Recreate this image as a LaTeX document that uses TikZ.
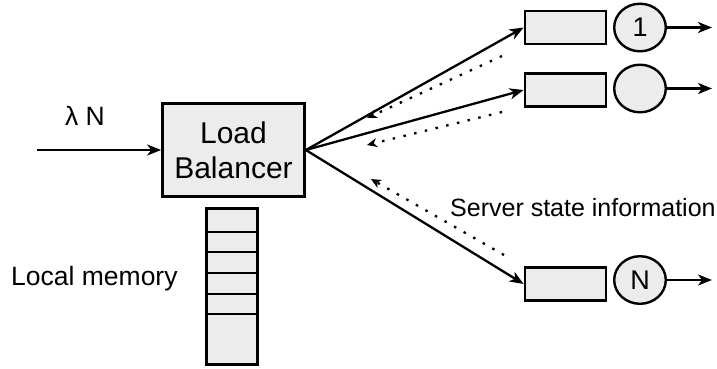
\documentclass[tikz,border=0pt]{standalone}
\usepackage{fontspec}
\setmainfont{Liberation Sans}
\usetikzlibrary{arrows.meta,positioning}
\tikzset{
box/.style={draw,line width=2.7pt,fill=gray!15,inner sep=0pt},
ring/.style={draw,line width=2.4pt,fill=gray!15},
srv/.style={minimum width=54pt,minimum height=50pt,inner sep=0pt,outer sep=0pt,font=\fontsize{27}{30}\selectfont},
lbl/.style={inner sep=0pt,font=\fontsize{26.5}{30}\selectfont},
flow/.style={line width=2.3pt,-{Stealth[length=14pt,width=11pt,inset=4pt]}},
info/.style={line width=2.3pt,dash pattern={on 2.5pt off 8.5pt},-{Stealth[length=10pt,width=9pt,inset=3pt]}},
}

\begin{document}
\begin{tikzpicture}[x=1pt,y=1pt,yscale=-1]
\useasboundingbox (0,0) rectangle (717,368);

%Load balancer
\node[box,minimum width=142pt,minimum height=93pt,align=center,font=\fontsize{30}{35}\selectfont] (lb) at (233.5,150) {Load\\Balancer};
%Local memory stack
\node[box,minimum width=51.3pt,minimum height=156.3pt] (mem) at (232,286.5) {};
\foreach \y in {232,252,273,294,314}
  \draw[line width=1.3pt] (mem.west |- 0,\y) -- (mem.east |- 0,\y);
\node[lbl,anchor=base west] (memlbl) at (11,285) {Local memory};

%Arrivals
\coordinate (in) at (37,150);
\draw[flow] (in) -- (lb);
\node[lbl] (rate) at (85,116) {λ N};

%Queues
\node[box,minimum width=81pt,minimum height=33pt] (q1) at (565.5,27.5) {};
\node[box,minimum width=81pt,minimum height=33pt] (q2) at (565.5,90) {};
\node[box,minimum width=81pt,minimum height=33pt] (qn) at (565.5,284) {};
%Servers
\foreach \y in {27.5,88.5,280}
  \path[ring] (640,\y) ellipse [x radius=25.8pt,y radius=23.8pt];
\node[srv] (s1) at (640,27.5) {1};
\node[srv] (s2) at (640,88.5) {};
\node[srv] (sn) at (640,280) {N};

%Departures
\coordinate (o1) at (712,27.5);
\coordinate (o2) at (712,88.5);
\coordinate (on) at (712,280);
\draw[flow] (s1) -- (o1);
\draw[flow] (s2) -- (o2);
\draw[flow] (sn) -- (on);

%Dispatching
\foreach \q in {q1,q2,qn}
  \draw[flow] (lb.east) -- (\q.west);

%Server state feedback
\coordinate (f1a) at (502,56);
\coordinate (f1b) at (367,118);
\coordinate (f2a) at (502,112);
\coordinate (f2b) at (367,145);
\coordinate (fna) at (504,255);
\coordinate (fnb) at (371,179);
\draw[info] (f1a) -- (f1b);
\draw[info] (f2a) -- (f2b);
\draw[info] (fna) -- (fnb);
\node[lbl,anchor=base west,font=\fontsize{25}{30}\selectfont] (statelbl) at (450,216) {Server state information};

\end{tikzpicture}
\end{document}
